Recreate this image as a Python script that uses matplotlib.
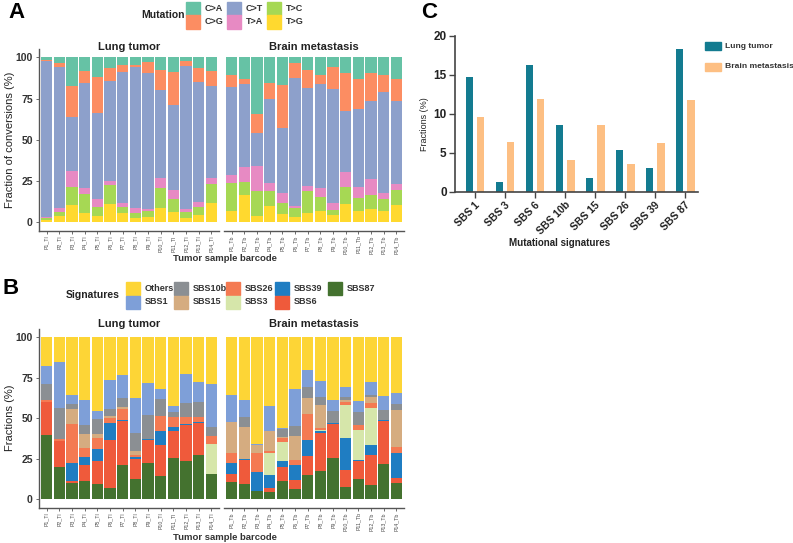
import matplotlib.pyplot as plt
from matplotlib.patches import Rectangle
import numpy as np

plt.rcParams['font.family'] = ['Liberation Sans', 'DejaVu Sans']

W, H = 793, 543
fig = plt.figure(figsize=(W / 100, H / 100), dpi=100)

# ---------------- data ----------------
patients = ["P%d" % i for i in range(1, 15)]
lung_labels = [p + "_Tl" for p in patients]
brain_labels = [p + "_Tb" for p in patients]

# panel A: mutation fractions (stacked bottom -> top)
mut_names = ["T>G", "T>C", "T>A", "C>T", "C>G", "C>A"]
mut_colors = {"C>A": "#66c2a5", "C>G": "#fc8d62", "C>T": "#8da0cb",
              "T>A": "#e78ac3", "T>C": "#a6d854", "T>G": "#ffd92f"}
lung_TG = [1.4, 3.8, 10.7, 5.9, 3.8, 11.0, 5.9, 2.8, 3.2, 8.7, 6.5, 2.4, 4.6, 11.5]
lung_TC = [1.0, 2.2, 10.8, 11.5, 5.5, 11.4, 3.2, 2.9, 3.5, 12.3, 7.5, 3.6, 4.9, 11.9]
lung_TA = [1.0, 2.7, 9.5, 3.6, 4.8, 2.6, 2.4, 3.0, 1.2, 5.7, 5.6, 2.0, 3.0, 3.7]
lung_CT = [94.1, 85.3, 32.6, 63.4, 51.9, 60.8, 79.6, 85.4, 82.6, 53.5, 51.4, 86.7, 72.3, 55.5]
lung_CG = [1.1, 2.5, 19.2, 7.3, 22.0, 7.9, 4.3, 1.5, 6.4, 12.1, 19.9, 3.1, 8.9, 9.1]
lung_CA = [1.4, 3.5, 17.2, 8.3, 12.0, 6.3, 4.6, 4.4, 3.1, 7.7, 9.1, 2.2, 6.3, 8.3]
brain_TG = [7.0, 16.6, 4.0, 10.1, 5.3, 3.2, 5.9, 7.0, 4.4, 11.1, 6.7, 8.3, 7.0, 10.5]
brain_TC = [17.0, 8.0, 15.2, 8.9, 6.2, 5.5, 12.9, 8.2, 3.3, 10.3, 8.3, 8.3, 7.1, 9.1]
brain_TA = [4.7, 8.9, 15.1, 5.0, 6.5, 1.2, 3.4, 5.4, 3.8, 9.3, 6.4, 9.9, 3.5, 3.6]
brain_CT = [53.1, 50.3, 19.7, 51.0, 39.2, 77.8, 59.2, 63.2, 69.1, 36.6, 47.3, 47.0, 61.6, 50.3]
brain_CG = [7.3, 3.1, 11.7, 9.2, 26.2, 8.9, 11.1, 5.3, 13.5, 23.0, 18.2, 16.8, 10.1, 13.2]
brain_CA = [10.9, 13.1, 34.3, 15.8, 16.6, 3.4, 7.5, 10.9, 5.9, 9.7, 13.1, 9.7, 10.7, 13.3]

# panel B: signature fractions (stacked bottom -> top)
sig_names = ["SBS87", "SBS6", "SBS39", "SBS3", "SBS26", "SBS15", "SBS10b", "SBS1", "Others"]
sig_colors = {"Others": "#fdd536", "SBS1": "#7e9fd8", "SBS10b": "#8b8f93",
              "SBS15": "#d5ac80", "SBS26": "#f47a52", "SBS3": "#d6e6aa",
              "SBS39": "#1f7dc2", "SBS6": "#ef5a3b", "SBS87": "#44722f"}
lung_sig = {
    "SBS87": [39.5, 20.0, 10.0, 11.1, 9.7, 7.0, 21.3, 12.6, 22.2, 14.6, 25.7, 23.7, 27.4, 15.4],
    "SBS6": [20.8, 16.0, 1.3, 9.9, 13.8, 29.3, 27.1, 12.5, 14.4, 18.9, 16.5, 22.2, 19.7, 0.0],
    "SBS39": [0.0, 0.0, 10.9, 5.0, 7.6, 11.0, 0.6, 0.8, 0.6, 8.7, 2.5, 0.6, 0.6, 0.0],
    "SBS3": [0.0, 0.0, 0.0, 0.0, 0.0, 0.0, 0.0, 0.0, 0.0, 0.0, 0.0, 0.0, 0.0, 18.5],
    "SBS26": [0.7, 1.0, 24.1, 5.5, 6.8, 2.9, 6.6, 1.5, 0.0, 9.2, 5.9, 4.3, 3.1, 5.4],
    "SBS15": [0.0, 0.0, 9.5, 8.6, 2.6, 1.1, 1.3, 2.6, 0.0, 0.0, 0.0, 0.0, 0.0, 0.0],
    "SBS10b": [10.2, 19.6, 3.0, 5.8, 9.0, 4.2, 5.6, 10.7, 14.7, 10.3, 3.5, 8.5, 9.1, 5.1],
    "SBS1": [10.7, 28.0, 5.6, 15.4, 5.0, 17.9, 13.9, 21.6, 20.1, 6.4, 3.7, 17.7, 12.3, 26.4],
    "Others": [18.1, 15.4, 35.6, 38.7, 45.5, 26.6, 23.6, 37.7, 28.0, 31.9, 42.2, 23.0, 27.8, 29.2],
}
brain_sig = {
    "SBS87": [10.7, 9.3, 5.1, 4.7, 11.4, 6.4, 15.0, 17.5, 25.3, 7.6, 12.6, 8.6, 21.6, 10.1],
    "SBS6": [4.7, 15.2, 0.0, 2.3, 8.6, 5.5, 11.7, 23.2, 21.2, 10.5, 11.1, 18.8, 27.0, 2.9],
    "SBS39": [7.2, 0.6, 11.8, 7.8, 3.5, 9.3, 9.9, 1.5, 0.6, 20.0, 0.4, 5.9, 0.6, 15.8],
    "SBS3": [0.0, 0.0, 0.0, 14.0, 11.8, 0.0, 0.0, 0.8, 0.0, 19.9, 18.9, 23.1, 0.0, 0.0],
    "SBS26": [5.8, 0.0, 11.5, 0.8, 2.4, 3.1, 15.9, 1.2, 0.0, 1.9, 3.1, 2.7, 0.0, 3.7],
    "SBS15": [19.5, 19.3, 4.9, 12.6, 1.0, 14.8, 9.8, 13.8, 0.0, 1.4, 0.0, 4.3, 0.0, 22.4],
    "SBS10b": [0.0, 6.2, 0.0, 0.0, 4.5, 6.2, 7.0, 4.8, 7.6, 1.5, 8.0, 1.0, 5.9, 3.9],
    "SBS1": [16.5, 10.9, 0.9, 15.2, 1.0, 22.8, 10.3, 10.3, 6.6, 6.3, 6.6, 8.0, 8.7, 7.0],
    "Others": [35.6, 38.5, 65.8, 42.6, 55.8, 31.9, 20.4, 26.9, 38.7, 30.9, 39.3, 27.6, 36.2, 34.2],
}

# panel C: average signature fractions
sigC = ["SBS 1", "SBS 3", "SBS 6", "SBS 10b", "SBS 15", "SBS 26", "SBS 39", "SBS 87"]
lungC = [14.7, 1.25, 16.3, 8.5, 1.75, 5.3, 3.0, 18.3]
brainC = [9.6, 6.4, 11.9, 4.1, 8.6, 3.6, 6.3, 11.75]


def px_axes(x0, y0, x1, y1):
    return fig.add_axes([x0 / W, 1 - y1 / H, (x1 - x0) / W, (y1 - y0) / H])


def stacked_panel(ax, labels, series, names, colors, left_axis):
    x = np.arange(1, len(labels) + 1)
    bottom = np.zeros(len(labels))
    for n in names:
        v = np.array(series[n])
        ax.bar(x, v, bottom=bottom, width=0.88, color=colors[n], linewidth=0)
        bottom += v
    ax.set_xlim(0.4, len(labels) + 0.6)
    ax.set_ylim(-5, 105)
    ax.set_xticks(x)
    ax.set_xticklabels(labels, rotation=90, fontsize=3.8, color="#4d4d4d")
    ax.tick_params(axis="x", length=2, width=0.6, color="#555555", pad=1.5)
    for s in ["top", "right"]:
        ax.spines[s].set_visible(False)
    ax.spines["bottom"].set_color("#555555")
    ax.spines["bottom"].set_linewidth(1.0)
    if left_axis:
        ax.spines["left"].set_color("#555555")
        ax.spines["left"].set_linewidth(1.0)
        ax.set_yticks([0, 25, 50, 75, 100])
        ax.set_yticklabels(["0", "25", "50", "75", "100"], fontsize=7.5, fontweight="bold", color="#333333")
        ax.tick_params(axis="y", length=2.5, width=0.6, color="#555555", pad=2)
    else:
        ax.spines["left"].set_visible(False)
        ax.set_yticks([])


# ---------------- panel A ----------------
lungA = {"T>G": lung_TG, "T>C": lung_TC, "T>A": lung_TA, "C>T": lung_CT, "C>G": lung_CG, "C>A": lung_CA}
brainA = {"T>G": brain_TG, "T>C": brain_TC, "T>A": brain_TA, "C>T": brain_CT, "C>G": brain_CG, "C>A": brain_CA}
axA1 = px_axes(39, 49, 219, 230.5)
axA2 = px_axes(224, 49, 404, 230.5)
stacked_panel(axA1, lung_labels, lungA, mut_names, mut_colors, True)
stacked_panel(axA2, brain_labels, brainA, mut_names, mut_colors, False)

fig.text(8 / W, 1 - 13 / H, "A", fontsize=16, fontweight="bold", va="center")
fig.text(129 / W, 1 - 47 / H, "Lung tumor", fontsize=8, fontweight="bold", ha="center", va="center", color="#222222")
fig.text(314 / W, 1 - 47 / H, "Brain metastasis", fontsize=8, fontweight="bold", ha="center", va="center", color="#222222")
fig.text(10 / W, 1 - 140 / H, "Fraction of conversions (%)", fontsize=8, rotation=90, ha="center", va="center", color="#222222")
fig.text(225 / W, 1 - 258.5 / H, "Tumor sample barcode", fontsize=6.8, fontweight="bold", ha="center", va="center", color="#333333")

# legend A
fig.text(185 / W, 1 - 15.5 / H, "Mutation", fontsize=7.5, fontweight="bold", ha="right", va="center", color="#222222")
legA = [("C>A", 186, 2), ("C>G", 186, 15.5), ("C>T", 227, 2), ("T>A", 227, 15.5), ("T>C", 267, 2), ("T>G", 267, 15.5)]
for name, lx, ly in legA:
    fig.patches.append(Rectangle((lx / W, 1 - (ly + 13) / H), 14 / W, 13 / H,
                                 transform=fig.transFigure, color=mut_colors[name], figure=fig))
    fig.text((lx + 19) / W, 1 - (ly + 6.5) / H, name, fontsize=6.5, fontweight="bold", va="center", color="#333333")

# ---------------- panel B ----------------
axB1 = px_axes(39, 329, 219, 507.5)
axB2 = px_axes(224, 329, 404, 507.5)
stacked_panel(axB1, lung_labels, lung_sig, sig_names, sig_colors, True)
stacked_panel(axB2, brain_labels, brain_sig, sig_names, sig_colors, False)

fig.text(3 / W, 1 - 289 / H, "B", fontsize=16, fontweight="bold", va="center")
fig.text(129 / W, 1 - 324 / H, "Lung tumor", fontsize=8, fontweight="bold", ha="center", va="center", color="#222222")
fig.text(314 / W, 1 - 324 / H, "Brain metastasis", fontsize=8, fontweight="bold", ha="center", va="center", color="#222222")
fig.text(10 / W, 1 - 418 / H, "Fractions (%)", fontsize=8, rotation=90, ha="center", va="center", color="#222222")
fig.text(225 / W, 1 - 537.5 / H, "Tumor sample barcode", fontsize=6.8, fontweight="bold", ha="center", va="center", color="#333333")

fig.text(120 / W, 1 - 295 / H, "Signatures", fontsize=7.5, fontweight="bold", ha="right", va="center", color="#222222")
legB = [("Others", 126, 282), ("SBS1", 126, 295.5), ("SBS10b", 174, 282), ("SBS15", 174, 295.5),
        ("SBS26", 226, 282), ("SBS3", 226, 295.5), ("SBS39", 275, 282), ("SBS6", 275, 295.5),
        ("SBS87", 328, 282)]
for name, lx, ly in legB:
    fig.patches.append(Rectangle((lx / W, 1 - (ly + 13) / H), 14 / W, 13 / H,
                                 transform=fig.transFigure, color=sig_colors[name], figure=fig))
    fig.text((lx + 19) / W, 1 - (ly + 6.5) / H, name, fontsize=6.5, fontweight="bold", va="center", color="#333333")

# ---------------- panel C ----------------
axC = px_axes(455, 35.7, 698, 191.7)
xc = np.arange(len(sigC))
axC.bar(xc - 0.19, lungC, width=0.25, color="#137b90", label="Lung tumor")
axC.bar(xc + 0.19, brainC, width=0.25, color="#fdbf83", label="Brain metastasis")
axC.set_xlim(-0.667, 7.43)
axC.set_ylim(0, 20)
axC.set_yticks([0, 5, 10, 15, 20])
axC.set_yticklabels(["0", "5", "10", "15", "20"], fontsize=8.5, fontweight="bold", color="#222222")
axC.set_xticks(xc)
axC.set_xticklabels(sigC, rotation=45, ha="right", rotation_mode="anchor", fontsize=7.5, fontweight="bold", color="#222222")
axC.tick_params(axis="both", length=4, width=1.0, color="#444444", pad=2)
for s in ["top", "right"]:
    axC.spines[s].set_visible(False)
for s in ["left", "bottom"]:
    axC.spines[s].set_color("#444444")
    axC.spines[s].set_linewidth(1.2)
axC.set_ylabel("Fractions (%)", fontsize=6.5, color="#222222")
axC.yaxis.set_label_coords(-0.105, 0.43)

fig.text(421 / W, 1 - 13 / H, "C", fontsize=16, fontweight="bold", va="center")
fig.text(560 / W, 1 - 243 / H, "Mutational signatures", fontsize=7, fontweight="bold", ha="center", va="center", color="#222222")

legC = [("Lung tumor", "#137b90", 42), ("Brain metastasis", "#fdbf83", 63)]
for name, col, ly in legC:
    fig.patches.append(Rectangle((705 / W, 1 - (ly + 8) / H), 16 / W, 8 / H,
                                 transform=fig.transFigure, color=col, figure=fig))
    fig.text(725 / W, 1 - (ly + 4) / H, name, fontsize=6.1, fontweight="bold", va="center", color="#333333")

fig.savefig("out.png", dpi=100)
